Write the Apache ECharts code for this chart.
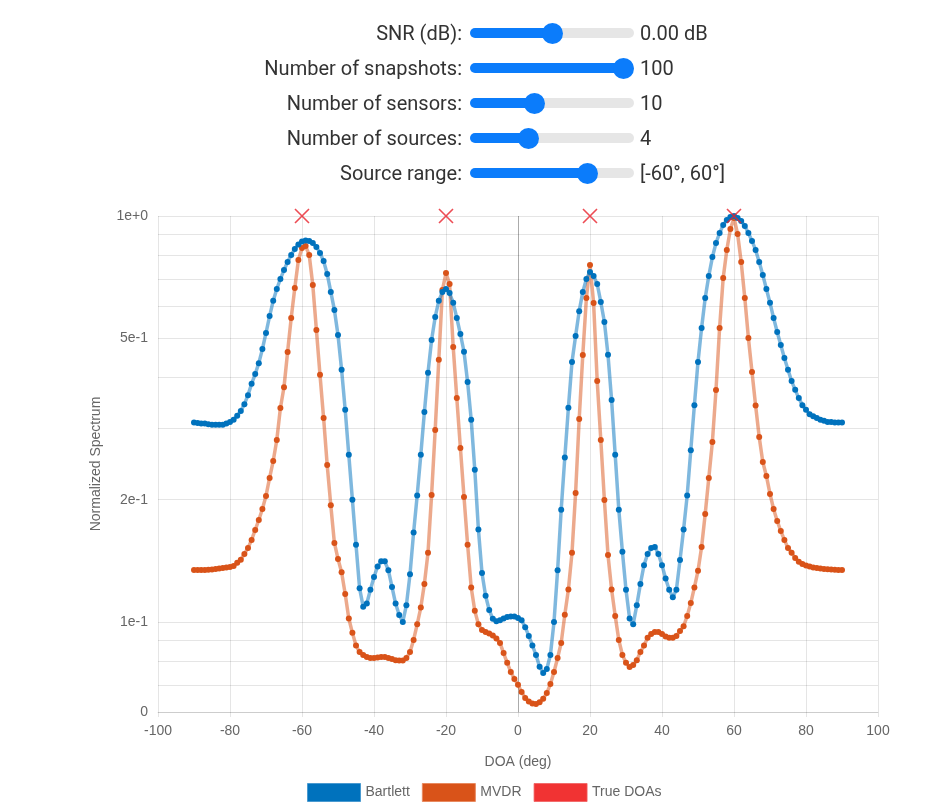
<!DOCTYPE html>
<html>
<head>
<meta charset="utf-8">
<script src="https://cdn.jsdelivr.net/npm/echarts@6/dist/echarts.min.js"></script>
<style>
  html, body { margin: 0; padding: 0; background: #fff; }
  #chart { position: absolute; left: 0; top: 0; width: 936px; height: 812px; }
  #controls { position: absolute; left: 0; top: 0; width: 936px; height: 200px; z-index: 2; font-family: Roboto, sans-serif; color: #333; font-size: 20px; }
  .lab { position: absolute; right: 474px; white-space: nowrap; line-height: 24px; }
  .val { position: absolute; left: 640px; white-space: nowrap; line-height: 24px; }
  input[type=range] { position: absolute; left: 470px; width: 164px; height: 10px; margin: 0; padding: 0;
    -webkit-appearance: none; appearance: none; border-radius: 5px; outline: none; border: none; }
  input[type=range]::-webkit-slider-thumb { -webkit-appearance: none; appearance: none; width: 21px; height: 21px;
    border-radius: 50%; background: #0b7cfb; border: none; }
</style>
</head>
<body>
<div id="chart"></div>
<div id="controls"></div>
<script>
// slider panel
var sliderLabels = ['SNR (dB):', 'Number of snapshots:', 'Number of sensors:', 'Number of sources:', 'Source range:'];
var sliderTexts = ['0.00 dB', '100', '10', '4', '[-60°, 60°]'];
var sliderMin = [-20, 1, 4, 1, 0];
var sliderMax = [20, 100, 20, 10, 80];
var sliderVal = [0, 100, 10, 4, 60];
var sliderRowY = [33, 68, 103, 138, 173];

// spectrum data, 1 deg grid
var doa = [
  -90,-89,-88,-87,-86,-85,-84,-83,-82,-81,
  -80,-79,-78,-77,-76,-75,-74,-73,-72,-71,
  -70,-69,-68,-67,-66,-65,-64,-63,-62,-61,
  -60,-59,-58,-57,-56,-55,-54,-53,-52,-51,
  -50,-49,-48,-47,-46,-45,-44,-43,-42,-41,
  -40,-39,-38,-37,-36,-35,-34,-33,-32,-31,
  -30,-29,-28,-27,-26,-25,-24,-23,-22,-21,
  -20,-19,-18,-17,-16,-15,-14,-13,-12,-11,
  -10,-9,-8,-7,-6,-5,-4,-3,-2,-1,
  0,1,2,3,4,5,6,7,8,9,
  10,11,12,13,14,15,16,17,18,19,
  20,21,22,23,24,25,26,27,28,29,
  30,31,32,33,34,35,36,37,38,39,
  40,41,42,43,44,45,46,47,48,49,
  50,51,52,53,54,55,56,57,58,59,
  60,61,62,63,64,65,66,67,68,69,
  70,71,72,73,74,75,76,77,78,79,
  80,81,82,83,84,85,86,87,88,89,
  90
];

var bartlett = [
  0.310,0.309,0.308,0.308,0.307,0.306,0.306,0.306,0.306,0.308,
  0.311,0.315,0.322,0.331,0.344,0.362,0.386,0.408,0.434,0.470,
  0.515,0.567,0.618,0.661,0.700,0.736,0.770,0.802,0.829,0.851,
  0.865,0.870,0.868,0.858,0.839,0.811,0.775,0.720,0.650,0.587,
  0.509,0.418,0.333,0.258,0.200,0.155,0.121,0.109,0.111,0.120,
  0.129,0.137,0.141,0.141,0.134,0.122,0.111,0.104,0.100,0.110,
  0.131,0.166,0.205,0.258,0.329,0.411,0.495,0.564,0.618,0.650,
  0.661,0.646,0.611,0.561,0.512,0.463,0.390,0.315,0.237,0.169,
  0.132,0.116,0.107,0.1018,0.1004,0.1010,0.1020,0.1029,0.1032,0.1032,
  0.1023,0.1010,0.0971,0.0924,0.0875,0.0829,0.0776,0.0749,0.0766,0.0829,
  0.0999,0.134,0.189,0.254,0.337,0.437,0.506,0.583,0.650,0.700,
  0.728,0.712,0.680,0.614,0.548,0.455,0.352,0.258,0.189,0.149,
  0.120,0.102,0.0987,0.110,0.124,0.138,0.147,0.152,0.153,0.147,
  0.138,0.128,0.120,0.115,0.120,0.142,0.169,0.205,0.265,0.342,
  0.437,0.530,0.628,0.712,0.792,0.858,0.908,0.950,0.978,0.994,
  1.000,0.989,0.972,0.945,0.908,0.868,0.825,0.770,0.716,0.661,
  0.611,0.561,0.518,0.481,0.447,0.418,0.392,0.373,0.356,0.342,
  0.333,0.325,0.321,0.318,0.315,0.313,0.311,0.311,0.310,0.310,
  0.310
];

var mvdr = [
  0.1343,0.1343,0.1343,0.1343,0.1344,0.1347,0.1351,0.1355,0.1358,0.1362,
  0.1366,0.1374,0.1398,0.1422,0.1471,0.1522,0.1592,0.1685,0.1783,0.1898,
  0.2044,0.2263,0.2491,0.2807,0.3366,0.3786,0.4624,0.5608,0.6646,0.7792,
  0.8339,0.8435,0.8015,0.6761,0.5239,0.4061,0.3180,0.2435,0.1938,0.1565,
  0.1430,0.1326,0.1172,0.1020,0.0940,0.0875,0.0843,0.0829,0.0820,0.0815,
  0.0815,0.0817,0.0820,0.0820,0.0815,0.0810,0.0805,0.0803,0.0803,0.0815,
  0.0843,0.0903,0.0987,0.1085,0.1241,0.1480,0.2055,0.2972,0.4423,0.6570,
  0.7238,0.6800,0.4758,0.3561,0.2683,0.2032,0.1550,0.1216,0.1065,0.0987,
  0.0955,0.0945,0.0937,0.0926,0.0911,0.0888,0.0838,0.0793,0.0753,0.0724,
  0.0700,0.0672,0.0650,0.0637,0.0630,0.0628,0.0634,0.0647,0.0668,0.0703,
  0.0753,0.0815,0.0888,0.1041,0.1202,0.1480,0.2079,0.3162,0.4547,0.6281,
  0.7572,0.6105,0.3923,0.2807,0.1997,0.1462,0.1202,0.1035,0.0903,0.0829,
  0.0793,0.0775,0.0783,0.0805,0.0843,0.0875,0.0914,0.0934,0.0945,0.0945,
  0.0934,0.0921,0.0914,0.0914,0.0924,0.0950,0.0976,0.1035,0.1113,0.1216,
  0.1336,0.1530,0.1845,0.2263,0.2776,0.3727,0.5301,0.7036,0.8245,0.9289,
  0.9887,0.9031,0.7700,0.6281,0.5007,0.4130,0.3413,0.2855,0.2477,0.2289,
  0.2067,0.1898,0.1773,0.1675,0.1592,0.1522,0.1480,0.1438,0.1406,0.1390,
  0.1378,0.1370,0.1362,0.1358,0.1355,0.1351,0.1349,0.1347,0.1345,0.1343,
  0.1343
];

var trueDoas = [-60, -20, 20, 60];
var trueDoaLevel = 1;

// y grid (log scale) and the labels shown on it
var yGridValues = [0.06, 0.07, 0.08, 0.09, 0.1, 0.2, 0.3, 0.4, 0.5, 0.6, 0.7, 0.8, 0.9, 1];
var yLabelValues = [1, 0.5, 0.2, 0.1, 0.06];
var yLabelTexts = ['1e+0', '5e-1', '2e-1', '1e-1', '0'];
var xTicks = { min: -100, max: 100, step: 20 };

// build sliders
var ctl = document.getElementById('controls');
for (var i = 0; i < sliderLabels.length; i++) {
  var y = sliderRowY[i];
  var lab = document.createElement('span');
  lab.className = 'lab';
  lab.style.top = (y - 12) + 'px';
  lab.textContent = sliderLabels[i];
  ctl.appendChild(lab);

  var inp = document.createElement('input');
  inp.type = 'range';
  inp.min = sliderMin[i]; inp.max = sliderMax[i]; inp.value = sliderVal[i];
  inp.style.top = (y - 5) + 'px';
  var f = (sliderVal[i] - sliderMin[i]) / (sliderMax[i] - sliderMin[i]);
  var p = (10.5 + f * (164 - 21)) / 164 * 100;
  inp.style.background = 'linear-gradient(to right, #0b7cfb 0%, #0b7cfb ' + p + '%, #e6e6e6 ' + p + '%, #e6e6e6 100%)';
  ctl.appendChild(inp);

  var val = document.createElement('span');
  val.className = 'val';
  val.style.top = (y - 12) + 'px';
  val.textContent = sliderTexts[i];
  ctl.appendChild(val);
}

var font = "'Liberation Sans', Arial, Helvetica, sans-serif";
var gridColor = 'rgba(0,0,0,0.1)';

var bartlettData = doa.map(function (d, i) { return [d, bartlett[i]]; });
var mvdrData = doa.map(function (d, i) { return [d, mvdr[i]]; });
var trueData = trueDoas.map(function (d) { return [d, trueDoaLevel]; });

var gridLines = yGridValues.map(function (v) { return { yAxis: v }; });
gridLines.push({ xAxis: 0, lineStyle: { color: 'rgba(0,0,0,0.25)' }, label: { show: false } });

var myChart = echarts.init(document.getElementById('chart'));
var option = {
  animation: false,
  backgroundColor: '#fff',
  textStyle: { fontFamily: font },
  grid: { left: 158, right: 58, top: 216, bottom: 100 },
  legend: {
    left: 302, top: 778,
    itemWidth: 53, itemHeight: 18, itemGap: 12,
    textStyle: { color: '#666', fontSize: 14, fontFamily: font },
    data: [
      { name: 'Bartlett', icon: 'rect', itemStyle: { color: '#0072BD', borderColor: '#4a9ad0', borderWidth: 1 } },
      { name: 'MVDR', icon: 'rect', itemStyle: { color: '#D95319', borderColor: '#e88a60', borderWidth: 1 } },
      { name: 'True DOAs', icon: 'rect', itemStyle: { color: '#ee0000', borderColor: '#f06060', borderWidth: 1 } }
    ]
  },
  xAxis: {
    type: 'value',
    min: xTicks.min, max: xTicks.max, interval: xTicks.step,
    name: 'DOA (deg)', nameLocation: 'middle', nameGap: 43,
    nameTextStyle: { color: '#666', fontSize: 14, fontFamily: font },
    axisLine: { show: true, lineStyle: { color: gridColor } },
    axisTick: { show: true, length: 5, lineStyle: { color: gridColor } },
    axisLabel: { color: '#666', fontSize: 14, margin: 12, fontFamily: font },
    splitLine: { show: true, lineStyle: { color: gridColor, width: 1 } }
  },
  yAxis: {
    type: 'log', logBase: 10,
    min: yGridValues[0], max: yGridValues[yGridValues.length - 1],
    name: 'Normalized Spectrum', nameLocation: 'middle', nameGap: 55, nameRotate: 90,
    nameTextStyle: { color: '#666', fontSize: 14, fontFamily: font },
    axisLine: { show: false }, axisTick: { show: false },
    axisLabel: { show: false }, splitLine: { show: false }, minorSplitLine: { show: false }
  },
  series: [
    {
      // grid lines and y labels on the log scale
      name: 'grid', type: 'line', data: [], clip: false, silent: true,
      markLine: {
        silent: true, symbol: 'none', z: 0, animation: false,
        lineStyle: { color: gridColor, width: 1, type: 'solid' },
        label: {
          position: 'start', distance: 10, color: '#666', fontSize: 14, fontFamily: font,
          formatter: function (p) {
            var k = yLabelValues.indexOf(p.value);
            return k < 0 ? '' : yLabelTexts[k];
          }
        },
        emphasis: { disabled: true },
        data: gridLines
      }
    },
    {
      name: 'MVDR', type: 'line', data: mvdrData, z: 3, clip: false,
      symbol: 'circle', symbolSize: 6, showSymbol: true, showAllSymbol: true,
      itemStyle: { color: '#D95319' },
      lineStyle: { color: 'rgba(217,83,25,0.5)', width: 3.5 }
    },
    {
      name: 'Bartlett', type: 'line', data: bartlettData, z: 4, clip: false,
      symbol: 'circle', symbolSize: 6, showSymbol: true, showAllSymbol: true,
      itemStyle: { color: '#0072BD' },
      lineStyle: { color: 'rgba(0,114,189,0.5)', width: 3.5 }
    },
    {
      name: 'True DOAs', type: 'scatter', data: trueData, z: 6, clip: false,
      symbol: 'path://M0,0L10,10M10,0L0,10', symbolSize: 14,
      itemStyle: { color: 'rgba(0,0,0,0)', borderColor: '#e8202a', borderWidth: 1.6 }
    }
  ]
};
myChart.setOption(option);
</script>
</body>
</html>
